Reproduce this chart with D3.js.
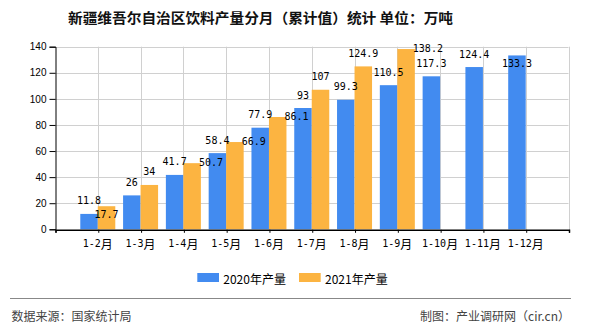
<!DOCTYPE html>
<html><head><meta charset="utf-8">
<script src="https://cdn.jsdelivr.net/npm/d3@7/dist/d3.min.js"></script>
<style>
html,body{margin:0;padding:0;background:#fff;}
svg{display:block;}
</style></head>
<body>
<svg id="chart" width="590" height="330"></svg>
<script>
// ---- data ----
const categories = ["1-2月","1-3月","1-4月","1-5月","1-6月","1-7月","1-8月","1-9月","1-10月","1-11月","1-12月"];
const series2020 = [11.8, 26, 41.7, 58.4, 77.9, 93, 99.3, 110.5, 117.3, 124.4, 133.3];
const series2021 = [17.7, 34, 50.7, 66.9, 86.1, 107, 124.9, 138.2, null, null, null];
const seriesNames = ["2020年产量", "2021年产量"];
const yTicks = [0, 20, 40, 60, 80, 100, 120, 140];
const titleText = "新疆维吾尔自治区饮料产量分月（累计值）统计 单位：万吨";
const sourceText = "数据来源：国家统计局";
const creditText = "制图：产业调研网（cir.cn）";

// ---- styles ----
const colors = ["#428BF0", "#FCB441"];
const svg = d3.select("#chart");
const plot = {left: 55, right: 568.5, top: 46.7, bottom: 229.3};
const barW = 17.5;
const monoFont = "'DejaVu Sans Mono', monospace";
const cjkFont = "'Noto Sans CJK SC', sans-serif";

const keys = ["__s", ...categories, "__e"];
const x = d3.scalePoint().domain(keys).range([plot.left, plot.right]);
const y = d3.scaleLinear().domain([0, 140]).range([plot.bottom, plot.top]);

// title
svg.append("text").attr("x", 68).attr("y", 16.5)
  .attr("dominant-baseline", "central")
  .attr("font-family", cjkFont).attr("font-size", 14).attr("font-weight", "bold")
  .attr("fill", "#111").attr("textLength", 385).attr("lengthAdjust", "spacingAndGlyphs")
  .text(titleText);

// grid lines
const g = svg.append("g");
g.selectAll("line.hg").data(yTicks.filter(d => d > 0)).join("line")
  .attr("x1", plot.left).attr("x2", plot.right)
  .attr("y1", d => Math.round(y(d)) + 0.5).attr("y2", d => Math.round(y(d)) + 0.5)
  .attr("stroke", "#d0d0d0").attr("stroke-width", 1);
g.selectAll("line.vg").data(keys.slice(1)).join("line")
  .attr("x1", d => Math.round(x(d)) + 0.5).attr("x2", d => Math.round(x(d)) + 0.5)
  .attr("y1", plot.top).attr("y2", plot.bottom)
  .attr("stroke", "#d0d0d0").attr("stroke-width", 1);

// bars
const bars = svg.append("g");
[series2020, series2021].forEach((vals, si) => {
  bars.selectAll("rect.s" + si).data(categories.map((c, i) => ({c, v: vals[i]})).filter(d => d.v != null))
    .join("rect")
    .attr("x", d => x(d.c) + (si === 0 ? -barW : 0))
    .attr("width", barW)
    .attr("y", d => y(d.v))
    .attr("height", d => plot.bottom - y(d.v))
    .attr("fill", colors[si]);
});

// y axis
const yAxis = d3.axisLeft(y).tickValues(yTicks).tickSize(6).tickPadding(3);
const ya = svg.append("g").attr("transform", `translate(${plot.left + 0.5},0)`).call(yAxis);
ya.select(".domain").attr("stroke", "#000");
ya.selectAll(".tick line").attr("stroke", "#000");
ya.selectAll(".tick text").attr("font-family", "'Liberation Sans', Arial, sans-serif")
  .attr("font-size", 10).attr("fill", "#000");

// x axis
const xAxis = d3.axisBottom(x).tickValues(keys).tickSize(3).tickFormat(() => "");
const xa = svg.append("g").attr("transform", `translate(0.5,${plot.bottom + 0.5})`).call(xAxis);
xa.select(".domain").attr("stroke", "#000").attr("stroke-width", 1.5);
xa.selectAll(".tick line").attr("stroke", "#000");
const xl = svg.append("g");
categories.forEach(c => {
  const t = xl.append("text").attr("x", x(c)).attr("y", 242.5)
    .attr("text-anchor", "middle").attr("dominant-baseline", "central").attr("fill", "#000");
  const m = c.match(/^([^月]+)(月)$/);
  t.append("tspan").attr("font-family", monoFont).attr("font-size", 10).text(m[1]);
  t.append("tspan").attr("font-family", cjkFont).attr("font-size", 12).text(m[2]);
});

// data labels with simple overlap avoidance: top -> inside -> right
const placed = [];
const lblG = svg.append("g");
function overlaps(b) {
  return placed.some(p => b.x0 < p.x1 && b.x1 > p.x0 && Math.abs(b.cy - p.cy) < 12);
}
[series2020, series2021].forEach((vals, si) => {
  categories.forEach((c, i) => {
    const v = vals[i];
    if (v == null) return;
    const t = lblG.append("text").attr("font-family", monoFont).attr("font-size", 10)
      .attr("fill", "#000").attr("dominant-baseline", "central").text(String(v));
    const w = t.node().getComputedTextLength();
    const bx0 = x(c) + (si === 0 ? -barW : 0);
    const bc = bx0 + barW / 2;
    const top = y(v);
    const cands = [
      {x0: bc - w / 2, cy: top - 13},
      {x0: bc - w / 2, cy: top + 8},
      {x0: bx0 + barW - 2, cy: top - 1}
    ];
    let chosen = cands[cands.length - 1];
    for (const cd of cands) {
      const b = {x0: cd.x0, x1: cd.x0 + w, cy: cd.cy};
      if (b.cy - 6 < plot.top - 2) continue;
      if (overlaps(b)) continue;
      chosen = cd; break;
    }
    placed.push({x0: chosen.x0, x1: chosen.x0 + w, cy: chosen.cy});
    t.attr("x", chosen.x0).attr("y", chosen.cy);
  });
});

// legend
const lg = svg.append("g");
const legendX = [197.3, 299];
seriesNames.forEach((n, i) => {
  lg.append("rect").attr("x", legendX[i]).attr("y", 273).attr("width", 21.7).attr("height", 9).attr("fill", colors[i]);
  lg.append("text").attr("x", legendX[i] + 26).attr("y", 278.3).attr("dominant-baseline", "central")
    .attr("font-family", cjkFont).attr("font-size", 12).attr("fill", "#000").text(n);
});

// separator + footer
svg.append("line").attr("x1", 10).attr("x2", 571).attr("y1", 298.5).attr("y2", 298.5)
  .attr("stroke", "#888").attr("stroke-width", 1);
svg.append("text").attr("x", 11.5).attr("y", 315.7).attr("dominant-baseline", "central")
  .attr("font-family", cjkFont).attr("font-size", 12).attr("fill", "#444").text(sourceText);
svg.append("text").attr("x", 570).attr("y", 315.7).attr("dominant-baseline", "central").attr("text-anchor", "end")
  .attr("font-family", cjkFont).attr("font-size", 12).attr("fill", "#444").text(creditText);
</script>
</body></html>
